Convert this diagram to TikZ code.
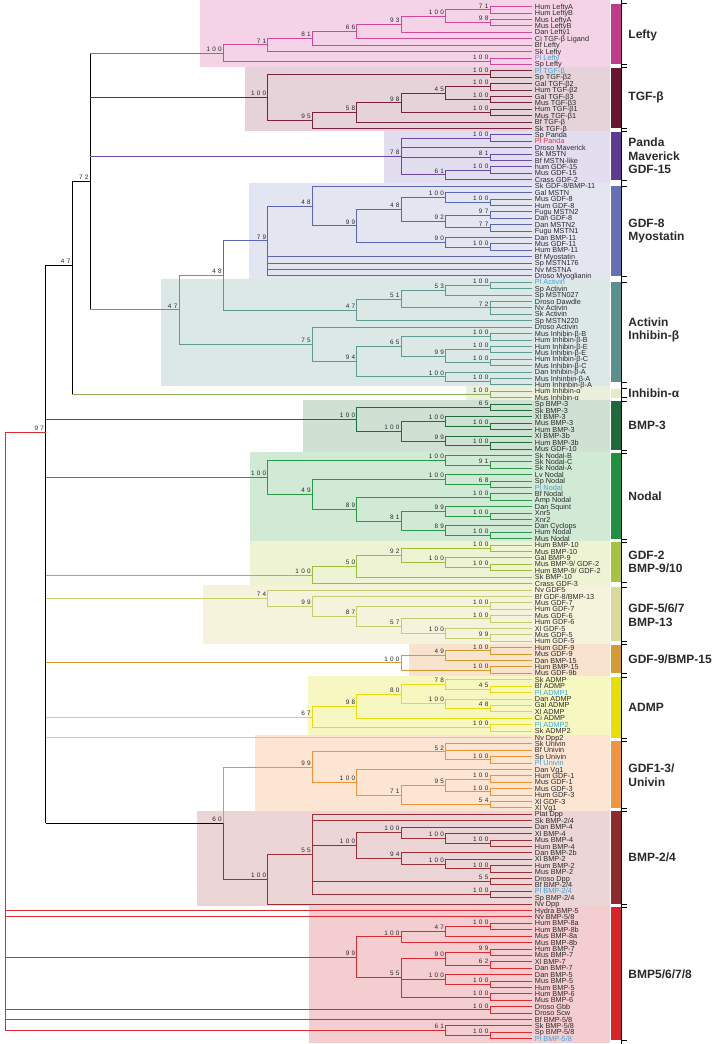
\documentclass[tikz,border=0pt]{standalone}
\usepackage{fontspec}
\setmainfont{Liberation Sans}
\newfontfamily\bsfont[LetterSpace=35]{Liberation Sans}
\usetikzlibrary{calc}
\definecolor{txt}{HTML}{2A2A2A}
\definecolor{plb}{HTML}{3FA6DC}
\definecolor{plr}{HTML}{E8304A}
\definecolor{cLefty}{HTML}{D0499A}\definecolor{gLefty}{HTML}{F3D3E5}\definecolor{rLefty}{HTML}{C23A8C}
\definecolor{cTGF}{HTML}{7A2040}\definecolor{gTGF}{HTML}{E5D3D9}\definecolor{rTGF}{HTML}{6A1533}
\definecolor{cPanda}{HTML}{6A48A8}\definecolor{gPanda}{HTML}{E3DDF0}\definecolor{rPanda}{HTML}{5D3B93}
\definecolor{cGDFe}{HTML}{5C66B0}\definecolor{gGDFe}{HTML}{E3E5F1}\definecolor{rGDFe}{HTML}{6670B3}
\definecolor{cAct}{HTML}{5E9A94}\definecolor{gAct}{HTML}{DCE8E6}\definecolor{rAct}{HTML}{5A908E}
\definecolor{cInha}{HTML}{8FAA5A}\definecolor{gInha}{HTML}{EBF0DC}\definecolor{rInha}{HTML}{E3EBC8}
\definecolor{cBMPc}{HTML}{1E6E3A}\definecolor{gBMPc}{HTML}{CFE1D3}\definecolor{rBMPc}{HTML}{1D6B3B}
\definecolor{cNodal}{HTML}{2A9A48}\definecolor{gNodal}{HTML}{D1EAD6}\definecolor{rNodal}{HTML}{1F9140}
\definecolor{cGDFb}{HTML}{9DBE3A}\definecolor{gGDFb}{HTML}{EEF4D3}\definecolor{rGDFb}{HTML}{A7C23F}
\definecolor{cGDFf}{HTML}{C8CC70}\definecolor{gGDFf}{HTML}{F5F3DB}\definecolor{rGDFf}{HTML}{DADA96}
\definecolor{cGDFn}{HTML}{D59A2C}\definecolor{gGDFn}{HTML}{F8E3CE}\definecolor{rGDFn}{HTML}{D49A33}
\definecolor{cADMP}{HTML}{E6DC10}\definecolor{gADMP}{HTML}{F7F7C2}\definecolor{rADMP}{HTML}{E6E000}
\definecolor{cUniv}{HTML}{F0913A}\definecolor{gUniv}{HTML}{FCE5D2}\definecolor{rUniv}{HTML}{F0953F}
\definecolor{cBMPb}{HTML}{9A3036}\definecolor{gBMPb}{HTML}{EBD5D6}\definecolor{rBMPb}{HTML}{8E2B2F}
\definecolor{cBMPe}{HTML}{DC2A30}\definecolor{gBMPe}{HTML}{F4CDD0}\definecolor{rBMPe}{HTML}{D8232A}
\tikzset{
 leaf/.style={anchor=west,inner xsep=2.5pt,inner ysep=0pt,font=\fontsize{7.3}{7.3}\selectfont,text height=5.2pt,text depth=0pt},
 bsl/.style={anchor=south east,inner sep=0pt,xshift=-1.2pt,yshift=1.3pt,font=\bsfont\fontsize{6.4}{6.4}\selectfont,text=txt},
 grp/.style={anchor=west,inner sep=0pt,align=left,font=\bfseries\fontsize{12}{13.5}\selectfont,text=txt},
}
\newcommand\leaf[3][txt]{\node[leaf,text=#1] (l#2) at (532,{6.7+(#2-1)*6.41}) {#3};}
\newcommand\firstlast[1]{\foreach \c [count=\i] in {#1}{\ifnum\i=1 \xdef\cfirst{\c}\fi\xdef\clast{\c}}}
\newcommand\bslabel[2]{\if\relax\detokenize{#1}\relax\else\node[bsl] (b-#2) at (#2) {#1};\fi}
% clade: all edges in current colour
\newcommand\clade[4][]{%
  \firstlast{#4}%
  \path let \p1=($(\cfirst)!0.5!(\clast)$) in coordinate (#2) at (#3,\y1);%
  \foreach \c in {#4}{\draw (#2) |- (\c);}%
  \bslabel{#1}{#2}}
% clade with each edge coloured by its child
\newcommand\cladec[4][]{%
  \foreach \c/\clr [count=\i] in {#4}{\ifnum\i=1 \xdef\cfirst{\c}\fi\xdef\clast{\c}}%
  \path let \p1=($(\cfirst)!0.5!(\clast)$) in coordinate (#2) at (#3,\y1);%
  \foreach \c/\clr in {#4}{\draw[\clr] (#2) |- (\c);}%
  \bslabel{#1}{#2}}
% backbone: vertical in current colour, horizontals in child colour (node already placed)
\newcommand\bbedges[2]{%
  \foreach \c/\clr [count=\i] in {#2}{\ifnum\i=1 \xdef\cfirst{\c}\fi\xdef\clast{\c}}%
  \draw (#1 |- \cfirst) -- (#1 |- \clast);%
  \foreach \c/\clr in {#2}{\draw[\clr] (#1 |- \c) -- (\c);}}
\def\kA{490}\def\kB{445.7}\def\kC{401.2}\def\kD{356.8}\def\kE{312.3}\def\kF{267.9}\def\kG{223.4}\def\kH{179}
\begin{document}
\begin{tikzpicture}[x=1pt,y=-1pt,line width=0.95pt]
\useasboundingbox (0,0) rectangle (715,1044);
\fill[white] (0,0) rectangle (715,1044);
% backgrounds
\fill[gLefty] (200,0) rectangle (610,67.4);
\fill[gTGF] (245,67.4) rectangle (610,130.8);
\fill[gPanda] (384,130.8) rectangle (610,183);
\fill[gGDFe] (249,183) rectangle (610,279);
\fill[gAct] (161,279) rectangle (610,386);
\fill[gInha] (466,386) rectangle (610,400);
\fill[gBMPc] (303,400) rectangle (610,452);
\fill[gNodal] (250,452) rectangle (610,541);
\fill[gGDFb] (250,541) rectangle (610,585);
\fill[gGDFf] (203,585) rectangle (610,644);
\fill[gGDFn] (409,644) rectangle (610,676);
\fill[gADMP] (308,676) rectangle (610,735);
\fill[gUniv] (255,735) rectangle (610,811);
\fill[gBMPb] (197,811) rectangle (610,906);
\fill[gBMPe] (309,906) rectangle (610,1043);
% leaves
\leaf{1}{Hum LeftyA}\leaf{2}{Hum LeftyB}\leaf{3}{Mus LeftyA}\leaf{4}{Mus LeftyB}
\leaf{5}{Dan Lefty1}\leaf{6}{Ci TGF-β Ligand}\leaf{7}{Bf Lefty}\leaf{8}{Sk Lefty}
\leaf[plb]{9}{Pl Lefty}\leaf{10}{Sp Lefty}
\leaf[plb]{11}{Pl TGF-β}\leaf{12}{Sp TGF-β2}\leaf{13}{Gal TGF-β2}\leaf{14}{Hum TGF-β2}
\leaf{15}{Gal TGF-β3}\leaf{16}{Mus TGF-β3}\leaf{17}{Hum TGF-β1}\leaf{18}{Mus TGF-β1}
\leaf{19}{Bf TGF-β}\leaf{20}{Sk TGF-β}
\leaf{21}{Sp Panda}\leaf[plr]{22}{Pl Panda}\leaf{23}{Droso Maverick}\leaf{24}{Sk MSTN}
\leaf{25}{Bf MSTN-like}\leaf{26}{hum GDF-15}\leaf{27}{Mus GDF-15}\leaf{28}{Crass GDF-2}
\leaf{29}{Sk GDF-8/BMP-11}\leaf{30}{Gal MSTN}\leaf{31}{Mus GDF-8}\leaf{32}{Hum GDF-8}
\leaf{33}{Fugu MSTN2}\leaf{34}{Dan GDF-8}\leaf{35}{Dan MSTN2}\leaf{36}{Fugu MSTN1}
\leaf{37}{Dan BMP-11}\leaf{38}{Mus GDF-11}\leaf{39}{Hum BMP-11}\leaf{40}{Bf Myostatin}
\leaf{41}{Sp MSTN176}\leaf{42}{Nv MSTNA}\leaf{43}{Droso Myoglianin}
\leaf[plb]{44}{Pl Activin}\leaf{45}{Sp Activin}\leaf{46}{Sp MSTN027}\leaf{47}{Droso Dawdle}
\leaf{48}{Nv Activin}\leaf{49}{Sk Activin}\leaf{50}{Sp MSTN220}\leaf{51}{Droso Activin}
\leaf{52}{Mus Inhibin-β-B}\leaf{53}{Hum Inhibin-β-B}\leaf{54}{Hum Inhibin-β-E}\leaf{55}{Mus Inhibin-β-E}
\leaf{56}{Hum Inhibin-β-C}\leaf{57}{Mus Inhibin-β-C}\leaf{58}{Dan Inhibin-β-A}\leaf{59}{Mus Inhinbin-β-A}
\leaf{60}{Hum Inhinbin-β-A}
\leaf{61}{Hum Inhibin-α}\leaf{62}{Mus Inhibin-α}
\leaf{63}{Sp BMP-3}\leaf{64}{Sk BMP-3}\leaf{65}{Xl BMP-3}\leaf{66}{Mus BMP-3}
\leaf{67}{Hum BMP-3}\leaf{68}{Xl BMP-3b}\leaf{69}{Hum BMP-3b}\leaf{70}{Mus GDF-10}
\leaf{71}{Sk Nodal-B}\leaf{72}{Sk Nodal-C}\leaf{73}{Sk Nodal-A}\leaf{74}{Lv Nodal}
\leaf{75}{Sp Nodal}\leaf[plb]{76}{Pl Nodal}\leaf{77}{Bf Nodal}\leaf{78}{Amp Nodal}
\leaf{79}{Dan Squint}\leaf{80}{Xnr5}\leaf{81}{Xnr2}\leaf{82}{Dan Cyclops}
\leaf{83}{Hum Nodal}\leaf{84}{Mus Nodal}
\leaf{85}{Hum BMP-10}\leaf{86}{Mus BMP-10}\leaf{87}{Gal BMP-9}\leaf{88}{Mus BMP-9/ GDF-2}
\leaf{89}{Hum BMP-9/ GDF-2}\leaf{90}{Sk BMP-10}\leaf{91}{Crass GDF-3}
\leaf{92}{Nv GDF5}\leaf{93}{Bf GDF-8/BMP-13}\leaf{94}{Mus GDF-7}\leaf{95}{Hum GDF-7}
\leaf{96}{Mus GDF-6}\leaf{97}{Hum GDF-6}\leaf{98}{Xl GDF-5}\leaf{99}{Mus GDF-5}\leaf{100}{Hum GDF-5}
\leaf{101}{Hum GDF-9}\leaf{102}{Mus GDF-9}\leaf{103}{Dan BMP-15}\leaf{104}{Hum BMP-15}\leaf{105}{Mus GDF-9b}
\leaf{106}{Sk ADMP}\leaf{107}{Bf ADMP}\leaf[plb]{108}{Pl ADMP1}\leaf{109}{Dan ADMP}
\leaf{110}{Gal ADMP}\leaf{111}{Xl ADMP}\leaf{112}{Ci ADMP}\leaf[plb]{113}{Pl ADMP2}
\leaf{114}{Sk ADMP2}\leaf{115}{Nv Dpp2}
\leaf{116}{Sk Univin}\leaf{117}{Bf Univin}\leaf{118}{Sp Univin}\leaf[plb]{119}{Pl Univin}
\leaf{120}{Dan Vg1}\leaf{121}{Hum GDF-1}\leaf{122}{Mus GDF-1}\leaf{123}{Mus GDF-3}
\leaf{124}{Hum GDF-3}\leaf{125}{Xl GDF-3}\leaf{126}{Xl Vg1}
\leaf{127}{Plat Dpp}\leaf{128}{Sk BMP-2/4}\leaf{129}{Dan BMP-4}\leaf{130}{Xl BMP-4}
\leaf{131}{Mus BMP-4}\leaf{132}{Hum BMP-4}\leaf{133}{Dan BMP-2b}\leaf{134}{Xl BMP-2}
\leaf{135}{Hum BMP-2}\leaf{136}{Mus BMP-2}\leaf{137}{Droso Dpp}\leaf{138}{Bf BMP-2/4}
\leaf[plb]{139}{Pl BMP-2/4}\leaf{140}{Sp BMP-2/4}\leaf{141}{Nv Dpp}
\leaf{142}{Hydra BMP-5}\leaf{143}{Nv BMP-5/8}\leaf{144}{Hum BMP-8a}\leaf{145}{Hum BMP-8b}
\leaf{146}{Mus BMP-8a}\leaf{147}{Mus BMP-8b}\leaf{148}{Hum BMP-7}\leaf{149}{Mus BMP-7}
\leaf{150}{Xl BMP-7}\leaf{151}{Dan BMP-7}\leaf{152}{Dan BMP-5}\leaf{153}{Mus BMP-5}
\leaf{154}{Hum BMP-5}\leaf{155}{Hum BMP-6}\leaf{156}{Mus BMP-6}\leaf{157}{Droso Gbb}
\leaf{158}{Droso Scw}\leaf{159}{Bf BMP-5/8}\leaf{160}{Sk BMP-5/8}\leaf{161}{Sp BMP-5/8}
\leaf[plb]{162}{Pl BMP-5/8}
% Lefty
\begin{scope}[color=cLefty]
\clade[71]{lf1}{\kA}{l1.west,l2.west}
\clade[98]{lf2}{\kA}{l3.west,l4.west}
\clade[100]{lf3}{\kB}{lf1,lf2}
\clade[93]{lf4}{\kC}{lf3,l5.west}
\clade[66]{lf5}{\kD}{lf4,l6.west}
\clade[81]{lf6}{\kE}{lf5,l7.west}
\clade[71]{lf7}{\kF}{lf6,l8.west}
\clade[100]{lf8}{\kA}{l9.west,l10.west}
\clade[100]{lefty}{\kG}{lf7,lf8}
\end{scope}
% TGF-beta
\begin{scope}[color=cTGF]
\clade[100]{tg1}{\kA}{l11.west,l12.west}
\clade[100]{tg2}{\kA}{l13.west,l14.west}
\clade[100]{tg3}{\kA}{l15.west,l16.west}
\clade[45]{tg4}{\kB}{tg2,tg3}
\clade[100]{tg5}{\kA}{l17.west,l18.west}
\clade[98]{tg6}{\kC}{tg4,tg5}
\clade[58]{tg7}{\kD}{tg6,l19.west}
\clade[95]{tg8}{\kE}{tg7,l20.west}
\clade[100]{tgf}{\kF}{tg1,tg8}
\end{scope}
% Panda
\begin{scope}[color=cPanda]
\clade[100]{pa1}{\kA}{l21.west,l22.west}
\clade[81]{pa2}{\kA}{l24.west,l25.west}
\clade[100]{pa3}{\kA}{l26.west,l27.west}
\clade[61]{pa4}{\kB}{pa3,l28.west}
\clade[78]{panda}{\kC}{pa1,l23.west,pa2,pa4}
\end{scope}
% GDF-8
\begin{scope}[color=cGDFe]
\clade[100]{ge1}{\kA}{l31.west,l32.west}
\clade[100]{ge2}{\kB}{l30.west,ge1}
\clade[97]{ge3}{\kA}{l33.west,l34.west}
\clade[77]{ge4}{\kA}{l35.west,l36.west}
\clade[92]{ge5}{\kB}{ge3,ge4}
\clade[48]{ge6}{\kC}{ge2,ge5}
\clade[100]{ge7}{\kA}{l38.west,l39.west}
\clade[90]{ge8}{\kB}{l37.west,ge7}
\clade[99]{ge9}{\kD}{ge6,ge8}
\clade[48]{ge10}{\kE}{l29.west,ge9}
\clade[79]{gdfe}{\kF}{ge10,l40.west,l41.west,l42.west,l43.west}
\end{scope}
% Activin / Inhibin-beta
\begin{scope}[color=cAct]
\clade[100]{ac1}{\kA}{l44.west,l45.west}
\clade[53]{ac2}{\kB}{ac1,l46.west}
\clade[72]{ac3}{\kA}{l47.west,l48.west,l49.west}
\clade[51]{ac4}{\kC}{ac2,ac3}
\clade[47]{ac5}{\kD}{ac4,l50.west}
\clade[100]{in1}{\kA}{l52.west,l53.west}
\clade[100]{in2}{\kA}{l54.west,l55.west}
\clade[100]{in3}{\kA}{l56.west,l57.west}
\clade[99]{in4}{\kB}{in2,in3}
\clade[65]{in5}{\kC}{in1,in4}
\clade[100]{in6}{\kA}{l59.west,l60.west}
\clade[100]{in7}{\kB}{l58.west,in6}
\clade[94]{in8}{\kD}{in5,in7}
\clade[75]{inhb}{\kE}{l51.west,in8}
\cladec[48]{ac6}{\kG}{gdfe/cGDFe,ac5/cAct}
\cladec[47]{ac7}{\kH}{ac6/cAct,inhb/cAct}
\end{scope}
\begin{scope}[color=cInha]
\clade[100]{inha}{\kA}{l61.west,l62.west}
\end{scope}
% BMP-3
\begin{scope}[color=cBMPc]
\clade[65]{bc1}{\kA}{l63.west,l64.west}
\clade[100]{bc2}{\kA}{l66.west,l67.west}
\clade[100]{bc3}{\kB}{l65.west,bc2}
\clade[100]{bc4}{\kA}{l69.west,l70.west}
\clade[99]{bc5}{\kB}{l68.west,bc4}
\clade[100]{bc6}{\kC}{bc3,bc5}
\clade[100]{bmpc}{\kD}{bc1,bc6}
\end{scope}
% Nodal
\begin{scope}[color=cNodal]
\clade[91]{nd1}{\kA}{l72.west,l73.west}
\clade[100]{nd2}{\kB}{l71.west,nd1}
\clade[68]{nd3}{\kA}{l75.west,l76.west}
\clade[100]{nd4}{\kB}{l74.west,nd3}
\clade[100]{nd5}{\kA}{l77.west,l78.west}
\clade[100]{nd6}{\kA}{l80.west,l81.west}
\clade[99]{nd7}{\kB}{l79.west,nd6}
\clade[100]{nd8}{\kA}{l83.west,l84.west}
\clade[89]{nd9}{\kB}{l82.west,nd8}
\clade[81]{nd10}{\kC}{nd7,nd9}
\clade[89]{nd11}{\kD}{nd5,nd10}
\clade[49]{nd12}{\kE}{nd4,nd11}
\clade[100]{nodal}{\kF}{nd2,nd12}
\end{scope}
% GDF-2
\begin{scope}[color=cGDFb]
\clade[100]{gb1}{\kA}{l85.west,l86.west}
\clade[100]{gb2}{\kA}{l88.west,l89.west}
\clade[100]{gb3}{\kB}{l87.west,gb2}
\clade[92]{gb4}{\kC}{gb1,gb3}
\clade[50]{gb5}{\kD}{gb4,l90.west}
\clade[100]{gdfb}{\kE}{gb5,l91.west}
\end{scope}
% GDF-5/6/7
\begin{scope}[color=cGDFf]
\clade[100]{gf1}{\kA}{l94.west,l95.west}
\clade[100]{gf2}{\kA}{l96.west,l97.west}
\clade[99]{gf3}{\kA}{l99.west,l100.west}
\clade[100]{gf4}{\kB}{l98.west,gf3}
\clade[57]{gf5}{\kC}{gf2,gf4}
\clade[87]{gf6}{\kD}{gf1,gf5}
\clade[99]{gf7}{\kE}{l93.west,gf6}
\clade[74]{gdff}{\kF}{l92.west,gf7}
\end{scope}
% GDF-9
\begin{scope}[color=cGDFn]
\clade[100]{gn1}{\kA}{l101.west,l102.west}
\clade[49]{gn2}{\kB}{gn1,l103.west}
\clade[100]{gn3}{\kA}{l104.west,l105.west}
\clade[100]{gdfn}{\kC}{gn2,gn3}
\end{scope}
% ADMP
\begin{scope}[color=cADMP]
\clade[45]{ad1}{\kA}{l107.west,l108.west}
\clade[78]{ad2}{\kB}{l106.west,ad1}
\clade[48]{ad3}{\kA}{l110.west,l111.west}
\clade[100]{ad4}{\kB}{l109.west,ad3}
\clade[80]{ad5}{\kC}{ad2,ad4}
\clade[98]{ad6}{\kD}{ad5,l112.west}
\clade[100]{ad7}{\kA}{l113.west,l114.west}
\clade[67]{admp}{\kE}{ad6,ad7}
\end{scope}
% GDF1-3 / Univin
\begin{scope}[color=cUniv]
\clade[100]{un1}{\kA}{l118.west,l119.west}
\clade[52]{un2}{\kB}{l116.west,l117.west,un1}
\clade[100]{un3}{\kA}{l121.west,l122.west}
\clade[100]{un4}{\kA}{l123.west,l124.west}
\clade[95]{un5}{\kB}{un3,un4}
\clade[54]{un6}{\kA}{l125.west,l126.west}
\clade[71]{un7}{\kC}{un5,un6}
\clade[100]{un8}{\kD}{l120.west,un7}
\clade[99]{univ}{\kE}{un2,un8}
\end{scope}
% BMP-2/4
\begin{scope}[color=cBMPb]
\clade[100]{bb1}{\kA}{l131.west,l132.west}
\clade[100]{bb2}{\kB}{l130.west,bb1}
\clade[100]{bb3}{\kC}{l129.west,bb2}
\clade[100]{bb4}{\kA}{l135.west,l136.west}
\clade[100]{bb5}{\kB}{l134.west,bb4}
\clade[94]{bb6}{\kC}{l133.west,bb5}
\clade[100]{bb7}{\kD}{bb3,bb6}
\clade[55]{bb8}{\kA}{l137.west,l138.west}
\clade[100]{bb9}{\kA}{l139.west,l140.west}
\clade[55]{bb10}{\kE}{l127.west,l128.west,bb7,bb8,bb9}
\clade[100]{bmpb}{\kF}{bb10,l141.west}
\end{scope}
\cladec[60]{n60}{\kG}{univ/cUniv,bmpb/cBMPb}
% BMP5/6/7/8
\begin{scope}[color=cBMPe]
\clade[100]{be1}{\kA}{l144.west,l145.west}
\clade[47]{be2}{\kB}{be1,l146.west}
\clade[100]{be3}{\kC}{be2,l147.west}
\clade[99]{be4}{\kA}{l148.west,l149.west}
\clade[62]{be5}{\kA}{l150.west,l151.west}
\clade[90]{be6}{\kB}{be4,be5}
\clade[100]{be7}{\kA}{l153.west,l154.west}
\clade[100]{be8}{\kB}{l152.west,be7}
\clade[100]{be9}{\kA}{l155.west,l156.west}
\clade[55]{be10}{\kC}{be6,be8,be9}
\clade[99]{bmpe}{\kD}{be3,be10}
\clade[100]{be11}{\kA}{l157.west,l158.west}
\clade[100]{be12}{\kA}{l161.west,l162.west}
\clade[61]{be13}{\kB}{l160.west,be12}
\end{scope}
% backbone
\path let \p1=($(lefty)!0.5!(ac7)$) in coordinate (n72) at (90.1,\y1);
\bbedges{n72}{lefty/cLefty,tgf/cTGF,panda/cPanda,ac7/cAct}
\bslabel{72}{n72}
\coordinate (n47) at (72,265);
\bbedges{n47}{n72/black,inha/cInha}
\bslabel{47}{n47}
\coordinate (n97) at (45.7,432);
\bbedges{n97}{n47/black,bmpc/cBMPc,nodal/cNodal,gdfb/cGDFb,gdff/cGDFf,gdfn/cGDFn,admp/cADMP,l115.west/cADMP,n60/black}
\bslabel{97}{n97}
\coordinate (root) at (5,730);
\begin{scope}[color=cBMPe]
\bbedges{root}{n97/cBMPe,l142.west/cBMPe,l143.west/cBMPe,bmpe/cBMPe,be11/cBMPe,l159.west/cBMPe,be13/cBMPe}
\end{scope}
% group bars and labels
\draw[line width=0.8pt,black] (621,0) -- (621,1044);
\foreach \nm/\a/\b/\clr in {bLefty/3.5/64.4/rLefty,bTGF/67.8/128/rTGF,bPanda/131.5/180/rPanda,bGDFe/186/276/rGDFe,bAct/282/382/rAct,bInha/388.5/397.6/rInha,bBMPc/401/450/rBMPc,bNodal/453/539/rNodal,bGDFb/542/582/rGDFb,bGDFf/587/641/rGDFf,bGDFn/644.5/673/rGDFn,bADMP/677/738/rADMP,bUniv/741/808/rUniv,bBMPb/811/904/rBMPb,bBMPe/907/1040/rBMPe}{
  \fill[\clr] (611,\a) rectangle (620.5,\b);
  \draw[line width=0.8pt,black] (621,\a) -- (627,\a) (621,\b) -- (627,\b);
}
\node[grp] (gLeftyT) at (628,35) {Lefty};
\node[grp] (gTGFT) at (628,97) {TGF-β};
\node[grp] (gPandaT) at (628,156) {Panda\\Maverick\\GDF-15};
\node[grp] (gGDFeT) at (628,231) {GDF-8\\Myostatin};
\node[grp] (gActT) at (628,330) {Activin\\Inhibin-β};
\node[grp] (gInhaT) at (628,393) {Inhibin-α};
\node[grp] (gBMPcT) at (628,425) {BMP-3};
\node[grp] (gNodalT) at (628,496) {Nodal};
\node[grp] (gGDFbT) at (628,562) {GDF-2\\BMP-9/10};
\node[grp] (gGDFfT) at (628,615) {GDF-5/6/7\\BMP-13};
\node[grp] (gGDFnT) at (628,659) {GDF-9/BMP-15};
\node[grp] (gADMPT) at (628,707) {ADMP};
\node[grp] (gUnivT) at (628,775) {GDF1-3/\\Univin};
\node[grp] (gBMPbT) at (628,857) {BMP-2/4};
\node[grp] (gBMPeT) at (628,974) {BMP5/6/7/8};
\end{tikzpicture}
\end{document}
